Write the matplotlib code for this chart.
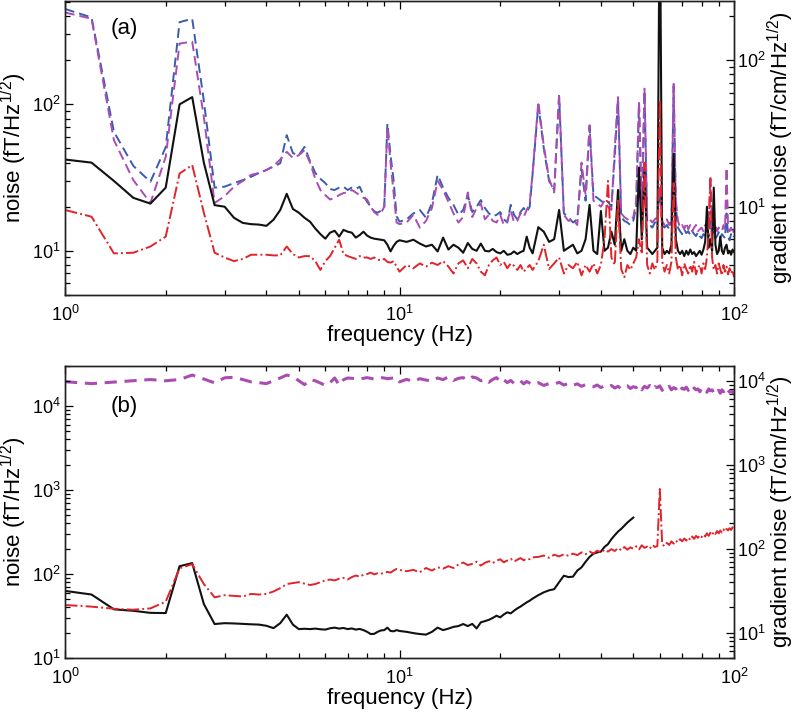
import matplotlib
matplotlib.use("Agg")
import matplotlib.pyplot as plt
from matplotlib.ticker import LogLocator, NullFormatter, LogFormatterSciNotation

plt.rcParams["font.family"] = ["Liberation Sans", "DejaVu Sans"]
plt.rcParams["mathtext.default"] = "regular"

# frequency bins (Hz), shared by both panels
freq = [1.0, 1.2, 1.4, 1.6, 1.8, 2.0, 2.2, 2.4, 2.6, 2.8,
        3.0, 3.2, 3.4, 3.6, 3.8, 4.0, 4.2, 4.4, 4.6, 4.8,
        5.0, 5.2, 5.4, 5.6, 5.8, 6.0, 6.2, 6.4, 6.6, 6.8,
        7.0, 7.2, 7.4, 7.6, 7.8, 8.0, 8.2, 8.4, 8.6, 8.8,
        9.0, 9.2, 9.4, 9.6, 9.8, 10.0,
        10.5, 11, 11.5, 12, 12.5, 13, 13.5, 14, 14.5, 15,
        15.5, 16, 16.5, 17, 17.5, 18, 18.5, 19, 19.5, 20,
        20.5, 21, 21.5, 22, 22.5, 23, 23.5, 24, 24.5, 25,
        26, 27, 28, 29, 30, 31, 32, 33, 34, 35,
        36, 37, 38, 39, 40, 41, 42, 43, 44, 45,
        46, 47, 48, 49, 50, 51, 52, 53, 54, 55,
        56, 57, 58, 59, 60, 61, 62, 63, 64, 65,
        66, 67, 68, 69, 70, 71, 72, 73, 74, 75,
        76, 77, 78, 79, 80, 81, 82, 83, 84, 85,
        86, 87, 88, 89, 90, 91, 92, 93, 94, 95,
        96, 97, 98, 99, 100]

# ---- panel (a) ----
# field noise, fT/Hz^1/2
noise_a_black = [42, 40, 30, 23, 21, 27, 100, 112, 40, 20.5,
                 20, 16.8, 15.5, 15.2, 15.1, 14.8, 16.3, 19, 24.5, 19.3,
                 18.2, 16.8, 15.8, 14.2, 13.0, 12.1, 13.3, 13.7, 12.5, 13.9,
                 13.5, 13.3, 12.3, 12.8, 13.5, 12.7, 12.3, 12.1, 12.0, 11.9,
                 11.8, 11.0, 9.9, 10.8, 11.5, 11.8,
                 11.5, 11.9, 11.2, 10.7, 11.0, 9.9, 12.3, 10.2, 11.0, 10.5,
                 9.7, 11.3, 10.3, 10.0, 11.2, 10.0, 9.9, 10.3, 9.8, 9.6,
                 10.0, 9.4, 9.5, 9.9, 9.5, 9.8, 10.0, 12.5, 10.5, 9.6,
                 14.5, 13.5, 11.5, 12.0, 19.0, 10.0, 10.5, 11.0, 9.6, 10.0,
                 12.0, 20.6, 10.0, 9.5, 18.7, 10.0, 10.5, 13.5, 11.0, 26.0,
                 10.0, 12.0, 10.0, 9.5, 10.5, 10.0, 37.0, 12.0, 35.5, 10.5,
                 10.0, 9.5, 10.0, 10.5, 3000, 10.5, 9.5, 10.0, 9.6, 11.0,
                 46.0, 12.0, 10.0, 9.5, 10.0, 9.2, 10.0, 9.4, 10.2, 9.5,
                 9.8, 9.2, 9.6, 10.0, 9.4, 10.2, 11.5, 20.0, 10.5, 12.0,
                 10.0, 27.0, 11.0, 9.5, 10.0, 12.5, 10.0, 9.5, 10.5, 11.0,
                 9.6, 10.0, 9.4, 10.2, 9.8]
noise_a_red = [19, 17.1, 9.6, 9.7, 10.7, 12.5, 33.7, 38.5, 18.2, 9.7,
               9.0, 8.5, 8.8, 9.4, 9.4, 9.4, 9.3, 9.3, 10.7, 9.5,
               9.0, 9.2, 9.2, 8.5, 7.4, 8.5, 9.2, 10.5, 11.9, 9.5,
               9.2, 9.0, 8.8, 9.2, 9.0, 9.0, 8.8, 9.0, 8.7, 8.6,
               8.8, 8.4, 8.3, 8.5, 7.8, 7.2,
               8.0, 7.6, 8.2, 7.8, 8.3, 8.0, 8.5, 7.8, 7.0, 8.2,
               8.6, 7.6, 8.8, 8.2, 7.2, 6.8, 8.0, 8.6, 9.0, 8.0,
               8.4, 7.6, 8.2, 7.9, 7.4, 8.0, 7.2, 7.6, 8.0, 7.4,
               8.5, 11.0, 7.5, 8.2, 9.0, 7.0, 8.0, 7.6, 8.4, 6.8,
               8.0, 7.2, 8.2, 7.0, 8.0, 12.0, 30.0, 9.0, 8.0, 22.0,
               7.5, 6.6, 8.0, 7.4, 8.2, 9.0, 12.0, 9.5, 40.0, 8.0,
               7.0, 8.2, 7.4, 8.5, 107, 8.5, 7.2, 8.0, 7.0, 8.4,
               29.0, 9.0, 7.4, 8.0, 6.8, 8.2, 7.5, 7.0, 8.0, 7.2,
               8.4, 6.9, 7.6, 8.0, 7.0, 8.2, 7.5, 9.0, 14.0, 31.0,
               9.0, 7.4, 8.0, 7.0, 8.2, 7.5, 6.8, 8.0, 7.2, 7.8,
               6.9, 7.6, 7.0, 7.4, 6.6]
# gradient noise, fT/cm/Hz^1/2
grad_a_blue = [224, 196, 32.5, 19, 14.8, 25.5, 182, 192, 53, 13.5,
               13.7, 14.5, 15.2, 16, 17, 17.8, 18.8, 19.8, 30.8, 23.2,
               22.5, 25.6, 20.5, 17, 15.5, 14.5, 13.2, 13, 13.5, 13.7,
               13, 13.5, 13.2, 13.7, 12, 10.8, 10, 9.3, 9.1, 9.4,
               9.8, 37, 22.5, 15.2, 8.6, 7.9,
               8.2, 9.0, 9.5, 8.4, 10.6, 16.5, 13.5, 11.5, 10.3, 8.8,
               9.5, 12, 9.2, 10, 11.1, 9.8, 9.0, 8.6, 8.8, 9.2,
               8.2, 7.8, 10.3, 8.8, 8.2, 9.2, 9.8, 9.2, 10, 16.8,
               50, 25, 15, 13, 57, 9, 8.5, 7.8, 8.2, 18,
               11, 35, 12, 11.5, 11, 10.5, 10.8, 10, 22, 55,
               8.5, 8, 7.8, 7.5, 8, 10, 51, 9, 62, 8,
               7.5, 7.2, 7.8, 8, 12.5, 7.5, 7.2, 7.5, 7, 8,
               67, 10, 7.2, 6.8, 6.5, 7, 6.6, 6.8, 6.4, 6.8,
               6.5, 6.3, 6.7, 6.3, 6.1, 6.5, 6.3, 6.9, 6.3, 8,
               6.5, 6.8, 6.1, 6.3, 6.7, 6.1, 6.5, 6.3, 6.1, 9,
               6.3, 5.9, 6.5, 6.1, 6.3]
grad_a_magenta = [212, 192, 28.5, 15.2, 10.6, 21.9, 130, 134, 41, 10.6,
                  11.8, 13.7, 15, 16.5, 17, 17.8, 19, 21, 23.7, 21.5,
                  22.5, 24.3, 20, 15.5, 13, 12, 11.2, 11.5, 12, 12.4,
                  12.5, 13, 12.5, 12, 11.5, 11.2, 10, 9.2, 8.8, 9,
                  10, 35, 20, 12.5, 7.8, 7.6,
                  7.8, 8.8, 7.2, 8, 9.8, 15, 13, 10.8, 9, 7.8,
                  8.5, 12.5, 8.5, 9.8, 10.5, 8.2, 8.8, 8, 7.8, 8.8,
                  7.5, 8, 9.5, 7.8, 8, 9, 8.5, 9.5, 10.5, 17,
                  52, 26, 15.5, 12.5, 59, 8.8, 8, 8.2, 7.5, 20,
                  12, 36, 11, 10.5, 10, 11, 10, 9.5, 25, 56,
                  9, 8.5, 8.2, 8, 8.5, 11, 52, 10, 64, 8.5,
                  8.2, 7.8, 8.2, 8.5, 14, 8, 7.5, 8.2, 7.5, 8.5,
                  69, 11, 8, 7.2, 7.5, 7, 7.8, 7, 7.5, 6.8,
                  7.2, 7.5, 6.8, 7, 7.2, 6.8, 7.5, 7, 8, 16,
                  7.5, 7, 7.5, 6.8, 7.2, 7, 6.8, 7.5, 7, 18.5,
                  7.2, 6.8, 7.2, 6.5, 7]

# ---- panel (b) ----
noise_b_black = [63, 57, 38, 36.5, 34.5, 34.3, 124, 135, 44, 25.4,
                 26, 25.8, 25.5, 25.2, 25, 24.2, 22.7, 26, 32.8, 25,
                 22.1, 22.3, 22.1, 22.4, 22, 21.8, 22.6, 23, 22.4, 22.8,
                 22.1, 22.5, 21.8, 22.2, 21.5, 20.5, 19.3, 19.4, 20.5, 21.3,
                 21.5, 23, 21, 20.8, 21.5, 21,
                 20.5, 19.8, 19.3, 19.0, 20.5, 23, 21.5, 22.4, 23.5, 24,
                 25.4, 24, 25.5, 22.5, 26.6, 27.5, 28.5, 30, 31.9, 30.5,
                 33, 35, 34, 36.6, 39, 41, 43.5, 46, 48.2, 51,
                 56, 60.6, 64, 66, 80, 95.6, 92, 93, 110, 120,
                 140, 160, 175, 181, 185, 210, 227, 260, 290, 320,
                 345, 376, 410, 440, 470]
noise_b_red = [42.8, 40.9, 38.6, 37.6, 39, 46.9, 117, 131, 76, 52.8,
               56, 55, 54, 58, 57, 58, 62, 68, 76, 78,
               80, 77, 74, 76, 80, 84, 86, 84, 88, 90,
               86, 92, 96, 93, 98, 100, 104, 99, 102, 101,
               103, 106, 104, 110, 115, 112,
               108, 112, 105, 118, 110, 120, 116, 124, 118, 130,
               137, 128, 132, 140, 126, 136, 142, 135, 144, 150,
               138, 145, 152, 141, 148, 155, 146, 152, 150, 158,
               160, 166, 156, 170, 162, 172, 165, 175, 168, 181,
               172, 185, 176, 190, 180, 195, 185, 198, 188, 204,
               192, 210, 195, 208, 200, 214, 196, 220, 205, 212,
               200, 222, 210, 215, 1030, 225, 215, 235, 222, 245,
               230, 250, 238, 260, 245, 265, 250, 272, 255, 280,
               262, 285, 270, 290, 275, 295, 280, 305, 285, 310,
               290, 318, 300, 325, 305, 330, 312, 340, 320, 345,
               330, 352, 335, 360, 340]
grad_b_magenta = [9750, 9250, 9650, 10000, 10350, 10000, 10350, 11700, 10500, 9450,
                  10850, 11000, 10350, 9700, 9500, 9250, 10000, 10800, 11700, 11200,
                  10000, 9000, 10300, 10000, 9400, 8800, 9500, 10800, 8900, 10300,
                  10800, 10700, 10600, 10500, 10700, 10900, 10700, 10500, 10800, 10900,
                  10800, 10600, 10700, 10800, 10900, 9700,
                  10400, 9800, 10600, 10200, 9900, 10800, 10300, 11200, 10100, 10700,
                  10900, 10200, 11100, 10800, 10000, 10500, 9600, 10400, 10900, 9700,
                  10300, 9500, 10100, 9300, 9900, 10000, 9200, 9800, 9400, 9000,
                  9500, 8800, 9300, 9100, 9600, 8900, 9300, 8800, 9200, 8600,
                  9000, 8700, 8500, 8900, 8300, 8700, 8400, 8800, 8200, 8600,
                  8000, 8500, 8700, 8100, 8500, 8300, 8900, 7800, 8600, 8200,
                  8800, 7900, 8500, 8300, 8700, 7700, 8400, 8100, 8600, 7800,
                  8300, 8000, 8500, 7600, 8200, 7900, 8400, 7700, 8100, 7500,
                  8200, 7800, 8000, 7400, 8100, 7700, 7900, 7300, 8000, 7600,
                  7800, 7200, 7900, 7500, 7700, 7100, 7800, 7400, 7600, 7000,
                  7700, 7300, 7500, 7200, 7600]

BLACK = "#111111"
RED = "#e0242a"
BLUE = "#3b5cae"
MAGENTA = "#a94db3"
LABEL_FS = 16
TICK_FS = 13


def style_log_axis(axis_obj):
    axis_obj.set_major_locator(LogLocator(base=10, numticks=10))
    axis_obj.set_minor_locator(LogLocator(base=10, subs=range(2, 10), numticks=10))
    axis_obj.set_minor_formatter(NullFormatter())
    axis_obj.set_major_formatter(LogFormatterSciNotation())


def setup_panel(ax, ax_r, ylim, ylim_r):
    ax.set_xscale("log")
    ax.set_yscale("log")
    ax_r.set_yscale("log")
    ax.set_xlim(1, 100)
    ax.set_ylim(*ylim)
    ax_r.set_ylim(*ylim_r)
    style_log_axis(ax.xaxis)
    style_log_axis(ax.yaxis)
    style_log_axis(ax_r.yaxis)
    # left axes on top of the twin so the field curves sit over the gradient ones
    ax_r.set_zorder(ax.get_zorder() - 1)
    ax.patch.set_visible(False)
    ax.tick_params(which="both", direction="in", top=True, right=False,
                   labelsize=TICK_FS, width=0.9)
    ax.tick_params(which="major", length=6)
    ax.tick_params(which="minor", length=3.5)
    ax.tick_params(axis="x", which="major", pad=7)
    ax.tick_params(axis="y", which="major", pad=3)
    ax_r.tick_params(which="both", direction="in", labelsize=TICK_FS, width=0.9)
    ax_r.tick_params(which="major", length=6, pad=2)
    ax_r.tick_params(which="minor", length=3.5)
    for sp in list(ax.spines.values()) + list(ax_r.spines.values()):
        sp.set_linewidth(1.0)
        sp.set_color("#222222")
    ax.set_xlabel("frequency (Hz)", fontsize=LABEL_FS, labelpad=0)
    ax.set_ylabel("noise (fT/Hz$^{1/2}$)", fontsize=LABEL_FS, labelpad=2)
    ax_r.set_ylabel("gradient noise (fT/cm/Hz$^{1/2}$)", fontsize=LABEL_FS,
                    labelpad=0)


fig = plt.figure(figsize=(7.98, 7.14), dpi=100)

# panel (a)
ax_a = fig.add_axes([0.0815, 0.587, 0.8383, 0.412])
ax_a_r = ax_a.twinx()
setup_panel(ax_a, ax_a_r, (5, 510), (2.5, 255))
ax_a_r.plot(freq, grad_a_blue, color=BLUE, lw=1.4, ls="--", dashes=(5, 2.6))
ax_a_r.plot(freq, grad_a_magenta, color=MAGENTA, lw=1.4, ls="--", dashes=(5, 2.6))
ax_a.plot(freq, noise_a_black, color=BLACK, lw=1.5)
ax_a.plot(freq, noise_a_red, color=RED, lw=1.4, ls="-.")
ax_a.text(0.088, 0.905, "(a)", transform=ax_a.transAxes, fontsize=16,
          ha="center", va="center")

# panel (b)
ax_b = fig.add_axes([0.0815, 0.0784, 0.8383, 0.409])
ax_b_r = ax_b.twinx()
setup_panel(ax_b, ax_b_r, (10, 3e4), (5, 1.5e4))
ax_b_r.plot(freq, grad_b_magenta, color=MAGENTA, lw=2.2, ls="--", dashes=(4, 2.5))
ax_b.plot(freq[:len(noise_b_black)], noise_b_black, color=BLACK, lw=1.5)
ax_b.plot(freq, noise_b_red, color=RED, lw=1.4, ls="-.")
ax_b.text(0.088, 0.86, "(b)", transform=ax_b.transAxes, fontsize=16,
          ha="center", va="center")

fig.savefig("out.png", dpi=100)
